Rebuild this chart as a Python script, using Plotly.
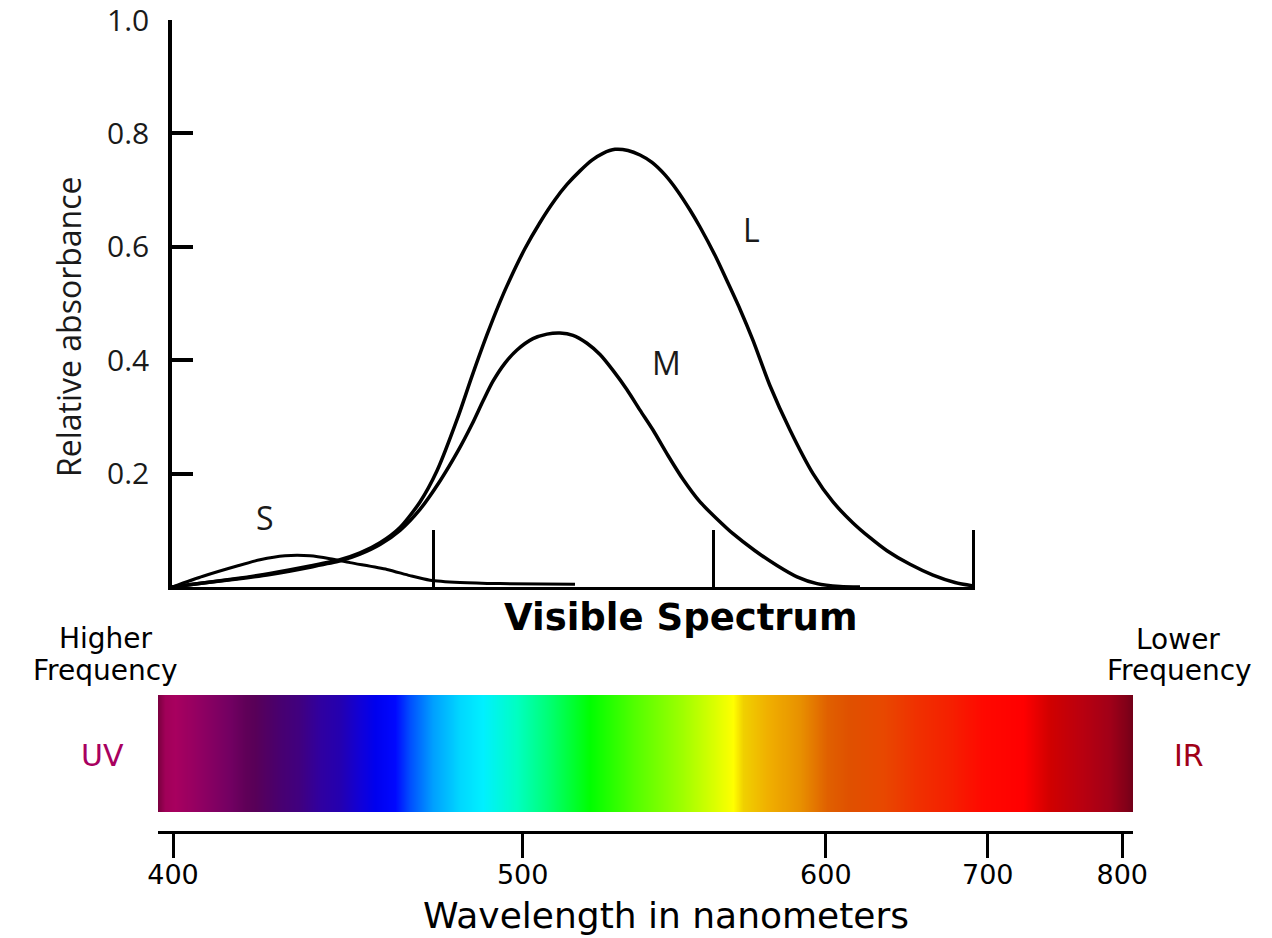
import plotly.graph_objects as go

W, H = 1272, 938

# ---------------- data ----------------
# position along the (unlabelled) absorbance axis, arbitrary units
l_pos = [172, 203, 237, 270, 310, 340, 360, 380, 400, 420, 437, 458, 472, 487, 500, 510,
         525, 540, 555, 567, 580, 592, 603, 615, 628, 640, 652, 665, 677, 690, 700, 715,
         727, 740, 753, 770, 790, 813, 833, 853, 870, 887, 910, 933, 955, 973]
l_abs = [0, 0.007, 0.015, 0.024, 0.037, 0.048, 0.060, 0.078, 0.105, 0.150, 0.205, 0.300,
         0.372, 0.445, 0.503, 0.543, 0.597, 0.643, 0.683, 0.710, 0.734, 0.753, 0.765,
         0.772, 0.770, 0.762, 0.749, 0.727, 0.700, 0.665, 0.635, 0.585, 0.540, 0.490,
         0.435, 0.355, 0.277, 0.200, 0.150, 0.113, 0.087, 0.064, 0.040, 0.021, 0.008,
         0.002]

m_pos = [172, 203, 237, 270, 310, 340, 360, 380, 400, 420, 440, 458, 472, 483, 493, 505,
         517, 533, 547, 560, 573, 587, 600, 613, 627, 640, 653, 668, 683, 700, 717, 733,
         755, 777, 797, 817, 840, 860]
m_abs = [0, 0.007, 0.014, 0.022, 0.035, 0.046, 0.058, 0.075, 0.100, 0.137, 0.187, 0.240,
         0.287, 0.328, 0.363, 0.395, 0.418, 0.438, 0.446, 0.448, 0.444, 0.430, 0.410,
         0.382, 0.348, 0.312, 0.277, 0.232, 0.190, 0.150, 0.120, 0.094, 0.064, 0.038,
         0.018, 0.006, 0.001, 0]

s_pos = [172, 203, 237, 260, 285, 310, 330, 350, 387, 410, 430, 460, 500, 575]
s_abs = [0, 0.019, 0.037, 0.048, 0.055, 0.055, 0.050, 0.043, 0.031, 0.020, 0.012, 0.008,
         0.006, 0.005]

marker_pos = [433, 713, 973]          # vertical marks on the absorbance axis
y_ticks = [0.2, 0.4, 0.6, 0.8, 1.0]
y_ticktext = ["0.2", "0.4", "0.6", "0.8", "1.0"]

# spectrum bar: fractional position along bar and colour
spec_pos = [0, 0.007, 0.017, 0.043, 0.074, 0.089, 0.099, 0.125, 0.146, 0.166, 0.187,
            0.207, 0.223, 0.243, 0.258, 0.282, 0.310, 0.333, 0.368, 0.402, 0.443, 0.487,
            0.538, 0.573, 0.590, 0.600, 0.625, 0.658, 0.686, 0.710, 0.744, 0.778, 0.812,
            0.846, 0.887, 0.915, 0.949, 0.976, 0.994, 1.0]
spec_col = ["#7c0040", "#a00058", "#a8005f", "#900062", "#720062", "#600058", "#580058",
            "#480070", "#400080", "#3000a0", "#2400b0", "#1000d8", "#0000ee", "#0008ff",
            "#0050ff", "#00a0ff", "#00d8ff", "#00f0ff", "#00ffc0", "#00ff70", "#00ff00",
            "#50ff00", "#a0ff00", "#e0ff00", "#ffff00", "#f0d000", "#f0b000", "#e89000",
            "#e06000", "#e05000", "#e84800", "#f03000", "#f52000", "#ff0800", "#ff0000",
            "#d00000", "#b80010", "#a00018", "#800018", "#700018"]

wl_labels = ["400", "500", "600", "700", "800"]
wl_pos = [0.0154, 0.374, 0.685, 0.851, 0.989]   # position of each wavelength on the bar

# ---------------- figure ----------------
def px(x):
    return x / W

def py(y):
    return 1 - y / H

fig = go.Figure()
line = dict(color="black", width=3.5, shape="spline", smoothing=0.7)
fig.add_trace(go.Scatter(x=l_pos, y=l_abs, mode="lines", line=line, cliponaxis=False,
                         hoverinfo="skip"))
fig.add_trace(go.Scatter(x=m_pos, y=m_abs, mode="lines", line=line, cliponaxis=False,
                         hoverinfo="skip"))
fig.add_trace(go.Scatter(x=s_pos, y=s_abs, mode="lines",
                         line=dict(color="black", width=3, shape="spline", smoothing=0.7),
                         cliponaxis=False, hoverinfo="skip"))

fig.add_trace(go.Heatmap(
    x=spec_pos, y=[0, 1], z=[spec_pos, spec_pos], zmin=0, zmax=1,
    colorscale=[[p, c] for p, c in zip(spec_pos, spec_col)],
    zsmooth="best", showscale=False, xaxis="x2", yaxis="y2", hoverinfo="skip"))

# invisible carrier trace so the wavelength axis is drawn
fig.add_trace(go.Scatter(x=wl_pos, y=[0.5] * len(wl_pos), mode="markers",
                         marker=dict(opacity=0), xaxis="x3", yaxis="y3",
                         hoverinfo="skip"))

font_main = "Open Sans"
font_px = "DejaVu Sans"

fig.update_layout(
    width=W, height=H, margin=dict(l=0, r=0, t=0, b=0, autoexpand=False),
    paper_bgcolor="white", plot_bgcolor="white", showlegend=False,
    xaxis=dict(domain=[px(172), px(975)], range=[172, 975], anchor="y",
               showline=True, linecolor="black", linewidth=3,
               ticks="inside", tickvals=marker_pos, ticklen=57, tickwidth=3,
               tickcolor="black", showticklabels=False, showgrid=False, zeroline=False),
    yaxis=dict(domain=[py(587), py(19.5)], range=[0, 1.001], anchor="x",
               showline=True, linecolor="black", linewidth=3.5,
               ticks="inside", tickvals=y_ticks, ticktext=y_ticktext, ticklen=21,
               tickwidth=3.5, tickcolor="black", ticklabelstandoff=13,
               ticklabeloverflow="allow",
               tickfont=dict(family=font_main, size=30, color="#1a1a1a"),
               showgrid=False, zeroline=False),
    xaxis2=dict(domain=[px(158), px(1133)], range=[0, 1], anchor="y2",
                visible=False),
    yaxis2=dict(domain=[py(812), py(695)], range=[-0.5, 1.5], anchor="x2",
                visible=False),
    xaxis3=dict(domain=[px(158), px(1133)], range=[0, 1], anchor="y3",
                showline=True, linecolor="black", linewidth=3,
                ticks="outside", tickvals=wl_pos, ticktext=wl_labels, ticklen=24,
                tickwidth=3, tickcolor="black", ticklabelstandoff=-6,
                ticklabeloverflow="allow",
                tickfont=dict(family=font_px, size=27, color="black"),
                showgrid=False, zeroline=False),
    yaxis3=dict(domain=[py(831), py(829)], range=[0, 1], anchor="x3", visible=False),
)

def ann(text, x, y, size, family=font_px, color="black", angle=0, bold=False,
        yanchor="middle"):
    if bold:
        text = "<b>" + text + "</b>"
    fig.add_annotation(text=text, x=px(x), y=py(y), xref="paper", yref="paper",
                       showarrow=False, xanchor="center", yanchor=yanchor,
                       textangle=angle, font=dict(family=family, size=size, color=color))

ann("S", 265, 517, 32, font_main, "#1a1a1a")
ann("M", 666, 363, 32, font_main, "#1a1a1a")
ann("L", 751, 229, 32, font_main, "#1a1a1a")
ann("Relative absorbance", 68, 327, 32, font_main, "#1a1a1a", angle=-90)
ann("Visible Spectrum", 681, 617, 37, font_px, "black", bold=True)
ann("Higher", 106, 638, 28)
ann("Frequency", 105, 670, 28)
ann("Lower", 1178, 639, 28)
ann("Frequency", 1179, 670, 28)
ann("UV", 102, 755, 30, color="#a8005f")
ann("IR", 1189, 755, 30, color="#a00018")
ann("Wavelength in nanometers", 666, 938, 36, yanchor="bottom")

fig.write_html("out.html")
